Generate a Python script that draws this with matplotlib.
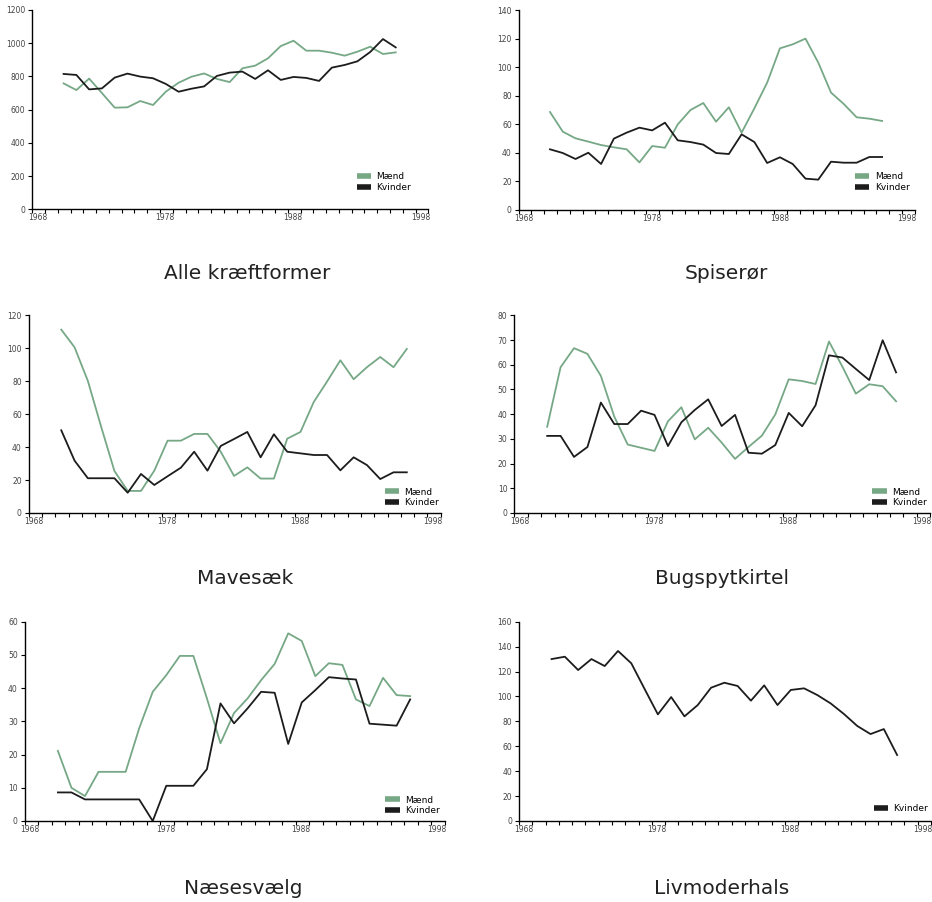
import matplotlib
matplotlib.use("Agg")
from matplotlib import pyplot as plt
from matplotlib.lines import Line2D
import numpy as np

years = np.arange(1970, 1997)

# Alle kræftformer
alle_m = [758, 718, 787, 700, 612, 614, 652, 628, 708, 762, 798, 818, 785, 766, 849, 865, 909,
          983, 1015, 955, 955, 943, 925, 949, 979, 935, 945]
alle_k = [815, 809, 722, 728, 793, 817, 799, 789, 755, 708, 726, 740, 803, 823, 829, 785, 837,
          779, 797, 791, 773, 853, 869, 891, 947, 1025, 975]

# Spiserør
spis_m = [68.6, 54.8, 50.1, 47.8, 45.4, 43.8, 42.4, 33.2, 44.7, 43.5, 59.9, 70.0, 74.9, 61.8,
          71.9, 54.1, 71.2, 89.2, 113.3, 116.1, 120.1, 103.3, 82.2, 74.2, 64.9, 63.9, 62.3]
spis_k = [42.4, 39.8, 35.6, 40.0, 32.1, 49.9, 54.1, 57.6, 55.7, 61.1, 48.7, 47.5, 45.7, 39.8,
          39.1, 52.9, 47.5, 32.8, 36.8, 32.1, 21.8, 21.1, 33.7, 33.0, 33.0, 37.0, 37.0]

# Mavesæk
mave_m = [111.3, 100.6, 80.2, 52.4, 25.5, 13.4, 13.4, 25.7, 43.9, 43.9, 48.0, 48.0, 37.2, 22.5,
          27.7, 20.9, 20.9, 45.1, 49.2, 67.4, 79.8, 92.7, 81.2, 88.5, 94.7, 88.5, 99.6]
mave_k = [50.2, 31.8, 21.1, 21.1, 21.1, 12.3, 23.7, 17.0, 22.3, 27.5, 37.2, 25.7, 40.7, 44.9,
          49.2, 33.8, 47.8, 37.2, 36.2, 35.2, 35.2, 25.9, 33.8, 29.1, 20.6, 24.7, 24.7]

# Bugspytkirtel
bug_m = [34.9, 59.0, 66.7, 64.4, 55.5, 39.0, 27.7, 26.4, 25.1, 37.1, 42.8, 29.8, 34.5, 28.5,
         21.9, 26.7, 31.3, 39.9, 54.1, 53.4, 52.2, 69.4, 59.2, 48.3, 52.1, 51.3, 45.2]
bug_k = [31.2, 31.2, 22.7, 26.7, 44.7, 36.0, 36.0, 41.4, 39.7, 27.1, 36.7, 41.7, 46.0, 35.2,
         39.7, 24.4, 24.0, 27.5, 40.5, 35.1, 43.6, 63.8, 62.9, 58.3, 53.8, 69.9, 56.9]

# Næsesvælg
naese_m = [21.1, 10.0, 7.5, 14.8, 14.8, 14.8, 27.9, 38.9, 43.9, 49.7, 49.7, 36.9, 23.4, 32.5,
           36.9, 42.4, 47.3, 56.5, 54.2, 43.6, 47.5, 47.0, 36.6, 34.6, 43.1, 37.9, 37.6]
naese_k = [8.6, 8.6, 6.5, 6.5, 6.5, 6.5, 6.5, 0.0, 10.6, 10.6, 10.6, 15.6, 35.4, 29.4, 33.9,
           38.9, 38.6, 23.2, 35.7, 39.4, 43.3, 42.9, 42.6, 29.3, 29.0, 28.7, 36.6]

# Livmoderhals
livm_k = [130.0, 131.9, 121.2, 130.0, 124.4, 136.5, 126.6, 106.0, 85.6, 99.5, 84.0, 93.1, 107.0,
          111.0, 108.4, 96.6, 108.9, 93.1, 105.2, 106.5, 101.1, 94.4, 85.9, 76.3, 69.8, 73.8, 53.0]

titles = ["Alle kræftformer", "Spiserør", "Mavesæk", "Bugspytkirtel", "Næsesvælg", "Livmoderhals"]
ymax = [1200, 140, 120, 80, 60, 160]
ystep = [200, 20, 20, 10, 10, 20]
series = [(alle_m, alle_k), (spis_m, spis_k), (mave_m, mave_k), (bug_m, bug_k),
          (naese_m, naese_k), (None, livm_k)]

GREEN = "#76a886"
BLACK = "#1c1c1c"
W, H = 932, 902

# axes boxes in pixels: left, top, bottom, width
boxes = [(32.3, 10, 209.3, 396), (518.7, 10.3, 209.7, 396),
         (28.7, 315.3, 513, 412), (514.3, 315.3, 513, 416),
         (24.7, 621.7, 821, 420), (519, 621.7, 821, 412)]
legend_pos = [(0.81, 0.07), (0.84, 0.07), (0.855, 0.01), (0.852, 0.01), (0.85, 0.01), (0.852, 0.02)]
title_pos = [(247, 273), (726, 273), (245, 578), (722, 578), (243, 888), (722, 888)]

plt.rcParams['font.family'] = ['DejaVu Sans']
fig = plt.figure(figsize=(W / 100, H / 100), dpi=100)

for i in range(6):
    l, t, b, w = boxes[i]
    ax = fig.add_axes([l / W, (H - b) / H, w / W, (b - t) / H])
    m, k = series[i]
    x = years + 0.45
    handles = []
    if m is not None:
        ax.plot(x, m, color=GREEN, lw=1.3)
        handles.append(Line2D([], [], color=GREEN, lw=4, solid_capstyle='butt', label="Mænd"))
    ax.plot(x, k, color=BLACK, lw=1.3)
    handles.append(Line2D([], [], color=BLACK, lw=4, solid_capstyle='butt', label="Kvinder"))

    ax.set_xlim(1968, 1999)
    ax.set_ylim(0, ymax[i])
    ax.set_yticks(np.arange(0, ymax[i] + 1, ystep[i]))
    ax.set_xticks(np.arange(1968, 2000), minor=True)
    ax.set_xticks([1968.4, 1978.4, 1988.4, 1998.4])
    ax.set_xticklabels(["1968", "1978", "1988", "1998"])
    ax.tick_params(axis='x', which='major', length=0, pad=3, labelsize=5.5, labelcolor='#444444')
    ax.tick_params(axis='x', which='minor', length=3, width=0.8, direction='out')
    ax.tick_params(axis='y', length=3, width=0.8, direction='out', pad=2,
                   labelsize=5.5, labelcolor='#444444')
    for s in ['top', 'right']:
        ax.spines[s].set_visible(False)
    for s in ['left', 'bottom']:
        ax.spines[s].set_linewidth(1.0)
    ax.legend(handles=handles, loc='lower left', bbox_to_anchor=legend_pos[i], frameon=False,
              fontsize=6.5, handlelength=1.6, handletextpad=0.6, labelspacing=0.2,
              borderaxespad=0)
    tx, ty = title_pos[i]
    fig.text(tx / W, 1 - ty / H, titles[i], ha='center', va='center', fontsize=14.5, color='#222222')

fig.savefig("out.png", dpi=100)
